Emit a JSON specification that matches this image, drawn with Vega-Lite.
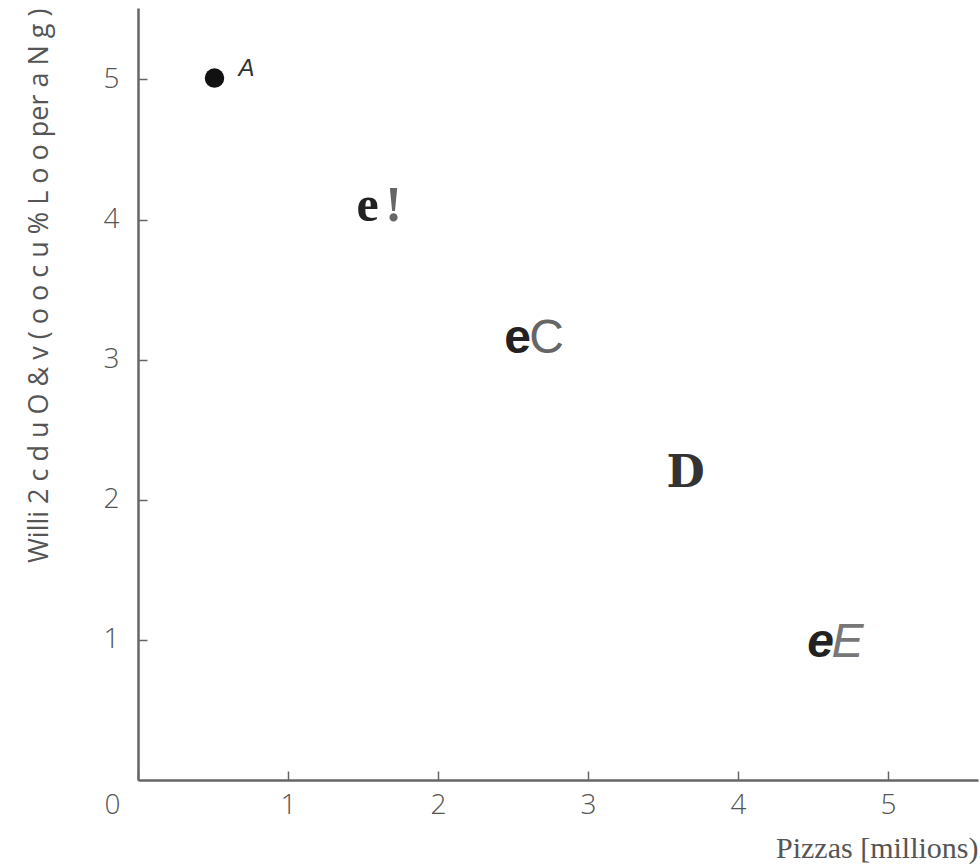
{
  "$schema": "https://vega.github.io/schema/vega-lite/v6.json",
  "width": 840,
  "height": 772,
  "autosize": "none",
  "padding": {"left": 138, "top": 8, "right": 2, "bottom": 87},
  "background": "white",
  "config": {"view": {"stroke": null}},
  "data": {"values": [
    {"point": "A", "pizzas": 0.51, "quantity": 5.01, "glyph": "", "letter": "A"},
    {"point": "B", "pizzas": 1.53, "quantity": 3.99, "glyph": "e", "letter": "!"},
    {"point": "C", "pizzas": 2.53, "quantity": 3.05, "glyph": "e", "letter": "C"},
    {"point": "D", "pizzas": 3.65, "quantity": 2.09, "glyph": "", "letter": "D"},
    {"point": "E", "pizzas": 4.55, "quantity": 0.88, "glyph": "e", "letter": "E"}
  ]},
  "encoding": {
    "x": {"field": "pizzas", "type": "quantitative",
      "scale": {"domain": [0, 5.6], "nice": false, "zero": true},
      "axis": {"values": [0, 1, 2, 3, 4, 5], "title": "Pizzas [millions)", "titleAnchor": "end",
        "titleFont": "Liberation Serif", "titleFontSize": 30, "titleFontWeight": "normal", "titleColor": "#555",
        "titlePadding": 14,
        "grid": false, "domainColor": "#666", "domainWidth": 2.5,
        "tickColor": "#666", "tickWidth": 1.5, "tickSize": -9,
        "labelFont": "Open Sans", "labelFontSize": 28, "labelColor": "#555", "labelFontWeight": 300,
        "labelPadding": 20,
        "labelOffset": {"condition": {"test": "datum.value == 0", "value": -34}, "value": 0}}},
    "y": {"field": "quantity", "type": "quantitative",
      "scale": {"domain": [0, 5.51], "nice": false, "zero": true},
      "axis": {"values": [1, 2, 3, 4, 5], "title": "Willi 2 c d u O & v ( o o c u % L o o per a N g )",
        "titleAnchor": "end", "titleFont": "Open Sans", "titleFontSize": 27, "titleFontWeight": "normal",
        "titleColor": "#555", "titlePadding": 50,
        "grid": false, "domainColor": "#666", "domainWidth": 2.5,
        "tickColor": "#666", "tickWidth": 1.5, "tickSize": -9,
        "labelFont": "Open Sans", "labelFontSize": 28, "labelColor": "#555", "labelFontWeight": 300,
        "labelPadding": 28}}
  },
  "layer": [
    {"transform": [{"filter": "datum.point == 'A'"}],
     "mark": {"type": "point", "filled": true, "shape": "circle", "size": 380, "color": "#111", "opacity": 1}},
    {"transform": [{"filter": "datum.point == 'A'"}],
     "mark": {"type": "text", "font": "Liberation Sans", "fontStyle": "italic", "fontSize": 24, "color": "#333",
       "dx": 32, "dy": -2, "baseline": "alphabetic", "align": "center"},
     "encoding": {"text": {"field": "letter"}}},
    {"transform": [{"filter": "datum.point == 'B'"}],
     "mark": {"type": "text", "font": "Liberation Serif", "fontWeight": "bold", "fontSize": 50, "color": "#222",
       "baseline": "alphabetic", "align": "center"},
     "encoding": {"text": {"field": "glyph"}}},
    {"transform": [{"filter": "datum.point == 'B'"}],
     "mark": {"type": "text", "font": "Liberation Serif", "fontWeight": "bold", "fontSize": 50, "color": "#666",
       "baseline": "alphabetic", "align": "center", "dx": 26},
     "encoding": {"text": {"field": "letter"}}},
    {"transform": [{"filter": "datum.point == 'C'"}],
     "mark": {"type": "text", "font": "Liberation Sans", "fontWeight": "bold", "fontSize": 48, "color": "#222",
       "baseline": "alphabetic", "align": "center"},
     "encoding": {"text": {"field": "glyph"}}},
    {"transform": [{"filter": "datum.point == 'C'"}],
     "mark": {"type": "text", "font": "Liberation Sans", "fontSize": 48, "color": "#666",
       "baseline": "alphabetic", "align": "center", "dx": 29},
     "encoding": {"text": {"field": "letter"}}},
    {"transform": [{"filter": "datum.point == 'D'"}],
     "mark": {"type": "text", "font": "DejaVu Serif", "fontWeight": "bold", "fontSize": 44, "color": "#333",
       "baseline": "alphabetic", "align": "center"},
     "encoding": {"text": {"field": "letter"}}},
    {"transform": [{"filter": "datum.point == 'E'"}],
     "mark": {"type": "text", "font": "Liberation Sans", "fontWeight": "bold", "fontStyle": "italic", "fontSize": 48, "color": "#222",
       "baseline": "alphabetic", "align": "center"},
     "encoding": {"text": {"field": "glyph"}}},
    {"transform": [{"filter": "datum.point == 'E'"}],
     "mark": {"type": "text", "font": "Liberation Sans", "fontStyle": "italic", "fontSize": 48, "color": "#777",
       "baseline": "alphabetic", "align": "center", "dx": 27},
     "encoding": {"text": {"field": "letter"}}}
  ]
}
